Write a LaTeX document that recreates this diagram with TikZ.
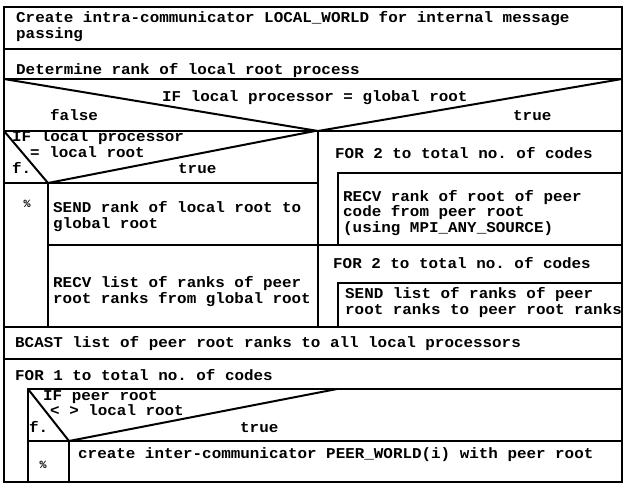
\documentclass[tikz,border=0pt]{standalone}
\usepackage{fontspec}
\setmonofont[FakeStretch=1.06]{Liberation Mono}
\tikzset{
    nstext/.style={anchor=base west,inner sep=0pt,align=left,font=\ttfamily\bfseries\fontsize{15}{15.5}\selectfont},
    nsmark/.style={anchor=center,inner sep=0pt,font=\ttfamily\bfseries\fontsize{11}{11}\selectfont},
    nsline/.style={draw=black,line width=2pt},
}

\begin{document}
\begin{tikzpicture}[x=1pt,y=-1pt]
    \useasboundingbox (0,0) rectangle (624,485);

    % frame and full-width rows
    \draw[nsline] (4,7) rectangle (622,482);
    \draw[nsline] (4,49) -- (622,49);
    \draw[nsline] (4,79) -- (622,79);
    \draw[nsline] (4,131) -- (622,131);
    \draw[nsline] (4,327) -- (622,327);
    \draw[nsline] (4,359) -- (622,359);

    % IF local processor = global root
    \coordinate (apexglobal) at (318,131);
    \draw[nsline] (4,79) -- (apexglobal) -- (622,79);
    \draw[nsline] (apexglobal) -- (318,327);

    % false branch: IF local processor = local root
    \coordinate (apexlocal) at (48,183);
    \draw[nsline] (4,131) -- (apexlocal) -- (315,131);
    \draw[nsline] (4,183) -- (318,183);
    \draw[nsline] (apexlocal) -- (48,327);
    \draw[nsline] (48,245) -- (318,245);

    % true branch: two FOR loops
    \draw[nsline] (622,173) -- (338,173) -- (338,245);
    \draw[nsline] (318,245) -- (622,245);
    \draw[nsline] (622,283) -- (338,283) -- (338,327);

    % FOR 1 loop with IF peer root
    \draw[nsline] (622,389) -- (28,389) -- (28,482);
    \coordinate (apexpeer) at (69,441);
    \draw[nsline] (28,389) -- (apexpeer) -- (337,389);
    \draw[nsline] (28,441) -- (622,441);
    \draw[nsline] (apexpeer) -- (69,482);

    % texts (base = baseline of last line)
    \node[nstext] (create) at (16,38) {Create intra-communicator LOCAL\_WORLD for internal message\\passing};
    \node[nstext] (determine) at (16,74) {Determine rank of local root process};
    \node[nstext] (ifglobal) at (162,101) {IF local processor = global root};
    \node[nstext] (falseglobal) at (50,120) {false};
    \node[nstext] (trueglobal) at (513,120) {true};

    \node[nstext] (iflocal1) at (12,141) {IF local processor};
    \node[nstext] (iflocal2) at (30,157) {= local root};
    \node[nstext] (flocal) at (12,173) {f.};
    \node[nstext] (truelocal) at (178,173) {true};
    \node[nsmark] (emptylocal) at (27,204) {\%};
    \node[nstext] (send) at (53,228) {SEND rank of local root to\\global root};
    \node[nstext] (recvlist) at (53,303) {RECV list of ranks of peer\\root ranks from global root};

    \node[nstext] (forrecv) at (335,158) {FOR 2 to total no. of codes};
    \node[nstext] (recvrank) at (343,232) {RECV rank of root of peer\\code from peer root\\(using MPI\_ANY\_SOURCE)};
    \node[nstext] (forsend) at (333,268) {FOR 2 to total no. of codes};
    \node[nstext] (sendlist) at (345,314) {SEND list of ranks of peer\\root ranks to peer root ranks};

    \node[nstext] (bcast) at (15,347) {BCAST list of peer root ranks to all local processors};
    \node[nstext] (forcodes) at (15,380) {FOR 1 to total no. of codes};
    \node[nstext] (ifpeer1) at (43,400) {IF peer root};
    \node[nstext] (ifpeer2) at (50,415) {< > local root};
    \node[nstext] (fpeer) at (29,432) {f.};
    \node[nstext] (truepeer) at (240,432) {true};
    \node[nsmark] (emptypeer) at (43,465) {\%};
    \node[nstext] (intercomm) at (78,458) {create inter-communicator PEER\_WORLD(i) with peer root};
\end{tikzpicture}
\end{document}
